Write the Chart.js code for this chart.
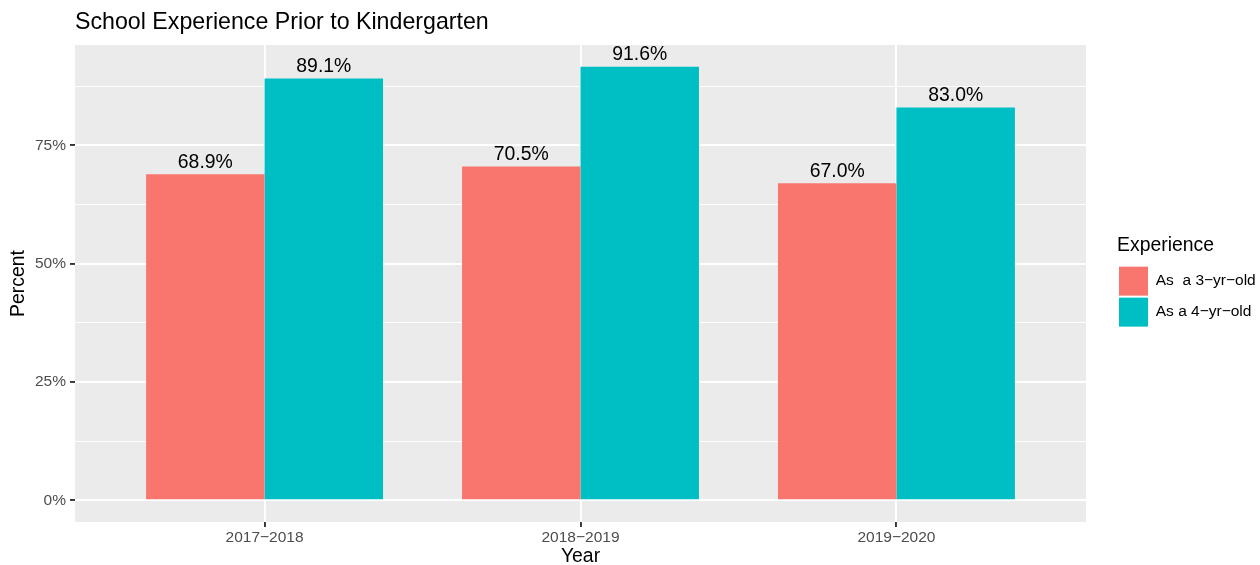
<!DOCTYPE html>
<html>
<head>
<meta charset="utf-8">
<script src="https://cdn.jsdelivr.net/npm/chart.js@4.4.0/dist/chart.umd.min.js"></script>
<style>
  html, body { margin: 0; padding: 0; background: #ffffff; }
  #wrap { width: 1260px; height: 565px; position: relative; }
</style>
</head>
<body>
<div id="wrap"><canvas id="chart" width="1260" height="565"></canvas></div>
<script>
// ---- data ----
const categories = ['2017\u22122018', '2018\u22122019', '2019\u22122020'];
const seriesNames = ['As  a 3\u2212yr\u2212old', 'As a 4\u2212yr\u2212old'];
const threeYrOld = [68.9, 70.5, 67.0];
const fourYrOld = [89.1, 91.6, 83.0];
const yBreaks = [0, 25, 50, 75];
const yTickLabels = ['0%', '25%', '50%', '75%'];

// ---- styling ----
const COLORS = ['#F8766D', '#00BFC4'];
const FONT = '"Liberation Sans", Arial, Helvetica, sans-serif';
Chart.defaults.font.family = FONT;

const allValues = threeYrOld.concat(fourYrOld);
const dataMax = Math.max(...allValues);
const yMin = -0.05 * dataMax;
const yMax = dataMax * 1.05;
const step = yBreaks[1] - yBreaks[0];
const yGridValues = [];
yBreaks.forEach(b => { yGridValues.push(b); if (b + step / 2 <= yMax) yGridValues.push(b + step / 2); });
const isMajor = v => yBreaks.indexOf(v) !== -1;

const toPoints = arr => arr.map((v, i) => ({ x: i + 1, y: v }));

const panelBg = {
  id: 'panelBg',
  beforeDraw(chart) {
    const { ctx, chartArea: a } = chart;
    ctx.save();
    ctx.fillStyle = '#ffffff';
    ctx.fillRect(0, 0, chart.width, chart.height);
    ctx.fillStyle = '#EBEBEB';
    ctx.fillRect(a.left, a.top, a.right - a.left, a.bottom - a.top);
    ctx.restore();
  }
};

const barLabels = {
  id: 'barLabels',
  afterDatasetsDraw(chart) {
    const ctx = chart.ctx;
    ctx.save();
    ctx.font = '19.4px ' + FONT;
    ctx.fillStyle = '#000000';
    ctx.textAlign = 'center';
    ctx.textBaseline = 'alphabetic';
    chart.data.datasets.forEach((ds, di) => {
      const meta = chart.getDatasetMeta(di);
      meta.data.forEach((el, i) => {
        const v = ds.data[i].y;
        ctx.fillText(v.toFixed(1) + '%', el.x, el.y - 6.5);
      });
    });
    ctx.restore();
  }
};

new Chart(document.getElementById('chart'), {
  type: 'bar',
  data: {
    datasets: [
      { label: seriesNames[0], data: toPoints(threeYrOld), backgroundColor: COLORS[0], borderWidth: 0, yAxisID: 'y', xAxisID: 'x' },
      { label: seriesNames[1], data: toPoints(fourYrOld), backgroundColor: COLORS[1], borderWidth: 0, yAxisID: 'y', xAxisID: 'x' }
    ]
  },
  options: {
    responsive: false,
    animation: false,
    devicePixelRatio: 1,
    layout: { padding: 0 },
    categoryPercentage: 0.75,
    barPercentage: 1.0,
    plugins: {
      tooltip: { enabled: false },
      title: {
        display: true,
        text: 'School Experience Prior to Kindergarten',
        align: 'start',
        fullSize: false,
        color: '#000000',
        font: { size: 23.2, weight: 'normal', lineHeight: 1.2 },
        padding: { top: 8.5, bottom: 8.66 }
      },
      legend: {
        display: true,
        position: 'right',
        align: 'center',
        maxWidth: 143,
        title: {
          display: true,
          text: 'Experience',
          position: 'start',
          color: '#000000',
          font: { size: 19.4, lineHeight: 1.2 },
          padding: { top: 0, bottom: 5 }
        },
        labels: {
          boxWidth: 29,
          boxHeight: 29,
          padding: 2,
          color: '#000000',
          font: { size: 15.5 }
        }
      }
    },
    scales: {
      x: {
        type: 'linear',
        position: 'bottom',
        offset: false,
        min: 0.4,
        max: 3.6,
        afterBuildTicks(s) { s.ticks = categories.map((c, i) => ({ value: i + 1 })); },
        afterFit(s) { s.height = 43; },
        grid: { offset: false, color: '#ffffff', lineWidth: 1.9, drawTicks: true, tickLength: 5, tickColor: '#333333', tickWidth: 1.9 },
        border: { display: false },
        ticks: {
          callback: (v, i) => categories[i],
          color: '#4D4D4D',
          font: { size: 15.5, lineHeight: 1.2 },
          padding: 1.2,
          maxRotation: 0,
          autoSkip: false
        },
        title: { display: true, text: 'Year', color: '#000000', font: { size: 19.4, lineHeight: 0.82 }, padding: { top: 0, bottom: 0 } }
      },
      y: {
        type: 'linear',
        position: 'left',
        min: yMin,
        max: yMax,
        afterBuildTicks(s) { s.ticks = yGridValues.map(v => ({ value: v })); },
        afterFit(s) { s.width = 75; },
        grid: {
          color: '#ffffff',
          lineWidth: c => (c.tick && isMajor(c.tick.value)) ? 1.9 : 0.95,
          drawTicks: true,
          tickLength: 5,
          tickColor: c => (c.tick && isMajor(c.tick.value)) ? '#333333' : 'rgba(0,0,0,0)',
          tickWidth: 1.9
        },
        border: { display: false },
        ticks: {
          callback: v => { const k = yBreaks.indexOf(v); return k === -1 ? '' : yTickLabels[k]; },
          color: '#4D4D4D',
          font: { size: 15.5, lineHeight: 1.2 },
          padding: 4,
          autoSkip: false
        },
        title: { display: true, text: 'Percent', color: '#000000', font: { size: 19.4, lineHeight: 1.2 }, padding: { top: 6.9, bottom: 0 } }
      },
      pad: {
        type: 'linear',
        axis: 'y',
        position: 'right',
        display: true,
        min: 0,
        max: 1,
        afterFit(s) { s.width = 31; },
        grid: { display: false, drawTicks: false },
        border: { display: false },
        ticks: { display: false }
      }
    }
  },
  plugins: [panelBg, barLabels]
});
</script>
</body>
</html>
